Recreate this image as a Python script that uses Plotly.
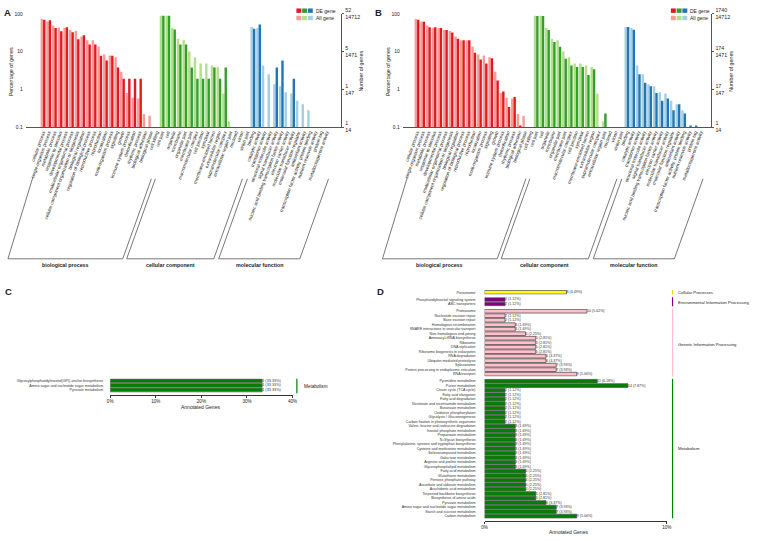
import plotly.graph_objects as go

W, H = 758, 541
def px(x): return x / W
def py(y): return 1 - y / H

# ---------------- GO level-2 terms (panels A, B) ----------------
bp_terms = ["cellular process", "single-organism process", "metabolic process",
            "response to stimulus", "developmental process", "multicellular organismal process",
            "cellular component organization or biogenesis", "biological regulation",
            "regulation of biological process", "reproductive process", "reproduction",
            "localization", "multi-organism process", "signaling", "growth",
            "immune system process", "detoxification", "rhythmic process",
            "biological adhesion", "biological phase", "cell killing"]
cc_terms = ["cell part", "cell", "organelle", "membrane", "organelle part",
            "membrane part", "macromolecular complex", "cell junction", "symplast",
            "membrane-enclosed lumen", "extracellular region", "supramolecular complex",
            "extracellular region part", "nucleoid", "virion", "virion part"]
mf_terms = ["binding", "catalytic activity", "transporter activity",
            "structural molecule activity", "signal transducer activity",
            "nucleic acid binding transcription factor activity", "electron carrier activity",
            "molecular transducer activity", "molecular function regulator",
            "antioxidant activity", "transcription factor activity, protein binding",
            "nutrient reservoir activity", "protein tag", "metallochaperone activity"]

# percentage of all genes (14712) - same in A and B
bp_all = [72.8, 63, 49, 42.6, 42, 37, 35, 25, 20, 20, 13.7, 8.4, 7.9, 7.1, 2.9, 0.8, 0.6, 0.57, 0.22, 0.2, None]
cc_all = [89, 89, 42, 22, 20, 10, 7.1, 4.8, 4.8, 4.3, 3.9, 0.77, 0.14, None, None, None]
mf_all = [45, 42, 4.3, 2.5, 1.37, 1.2, 0.84, 0.77, 0.5, 0.4, 0.28, None, None, None]

# percentage of DE genes, panel A (52 genes)
a_bp_de = [69.2, 67.3, 42.3, 34.6, 44.2, 32.7, 21.2, 26.9, 15.4, 15.4, 7.7, 5.8, 7.7, 3.8, 1.9, 1.9, 1.9, 1.9, None, None, None]
a_cc_de = [88.5, 88.5, 38.5, 15.4, 15.4, 3.8, 1.9, 1.9, 1.9, 3.8, 1.9, 3.8, None, None, None, None]
a_mf_de = [40.4, 51.9, None, None, 3.8, 5.8, None, 1.9, None, None, None, None, None, None]

# percentage of DE genes, panel B (1740 genes)
b_bp_de = [70, 62, 44, 44, 42, 37, 32, 22, 20, 20, 9.3, 6.2, 4.8, 6.7, 1.7, 0.87, 0.34, 0.63, 0.11, None, None]
b_cc_de = [88, 88, 37, 18, 13.5, 6.5, 4.3, 3.9, 3.9, 2.4, 3.4, None, 0.23, None, None, None]
b_mf_de = [45, 38, 2.5, 1.5, 1.2, 0.8, 0.5, 0.57, 0.28, 0.4, 0.23, 0.11, 0.11, None]

pct_ticks = [0.1, 1, 10, 100]
pct_text = ["0.1", "1", "10", "100"]
a_right_text = ["1<br>14", "1<br>147", "5<br>1471", "52<br>14712"]
b_right_text = ["1<br>14", "17<br>147", "174<br>1471", "1740<br>14712"]

# ---------------- KEGG (panel C) ----------------
c_terms = ["Glycosylphosphatidylinositol(GPI)-anchor biosynthesis",
           "Amino sugar and nucleotide sugar metabolism", "Pyruvate metabolism"]
c_counts = [1, 1, 1]
c_total = 3

# ---------------- KEGG (panel D) ----------------
d_total = 178
d_cp_terms = ["Peroxisome"]
d_cp_counts = [8]
d_eip_terms = ["Phosphatidylinositol signaling system", "ABC transporters"]
d_eip_counts = [2, 2]
d_gip_terms = ["Proteasome", "Nucleotide excision repair", "Base excision repair",
               "Homologous recombination", "SNARE interactions in vesicular transport",
               "Non-homologous end-joining", "Aminoacyl-tRNA biosynthesis", "Ribosome",
               "DNA replication", "Ribosome biogenesis in eukaryotes", "RNA degradation",
               "Ubiquitin mediated proteolysis", "Spliceosome",
               "Protein processing in endoplasmic reticulum", "RNA transport"]
d_gip_counts = [10, 2, 2, 3, 3, 4, 5, 5, 5, 5, 6, 6, 7, 7, 9]
d_met_terms = ["Pyrimidine metabolism", "Purine metabolism", "Citrate cycle (TCA cycle)",
               "Fatty acid elongation", "Fatty acid degradation",
               "Nicotinate and nicotinamide metabolism", "Butanoate metabolism",
               "Oxidative phosphorylation", "Glycolysis / Gluconeogenesis",
               "Carbon fixation in photosynthetic organisms",
               "Valine, leucine and isoleucine degradation", "Inositol phosphate metabolism",
               "Propanoate metabolism", "N-Glycan biosynthesis",
               "Phenylalanine, tyrosine and tryptophan biosynthesis",
               "Cysteine and methionine metabolism", "Selenocompound metabolism",
               "Galactose metabolism", "Arginine and proline metabolism",
               "Glycerophospholipid metabolism", "Fatty acid metabolism",
               "Glutathione metabolism", "Pentose phosphate pathway",
               "Ascorbate and aldarate metabolism", "Arachidonic acid metabolism",
               "Terpenoid backbone biosynthesis", "Biosynthesis of amino acids",
               "Pyruvate metabolism", "Amino sugar and nucleotide sugar metabolism",
               "Starch and sucrose metabolism", "Carbon metabolism"]
d_met_counts = [11, 14, 2, 2, 2, 2, 2, 2, 2, 2, 3, 3, 3, 3, 3, 3, 3, 3, 3, 3,
                4, 4, 4, 4, 4, 5, 5, 6, 7, 7, 9]
d_groups = ["Cellular Processes", "Environmental Information Processing",
            "Genetic Information Processing", "Metabolism"]

# ---------------- styling ----------------
FONT = "Liberation Sans, Arial, sans-serif"
TXT = "#222222"
LIGHT = {"bp": "#FB9A99", "cc": "#B2DF8A", "mf": "#A6CEE3"}
DARK = {"bp": "#E31A1C", "cc": "#33A02C", "mf": "#1F78B4"}

terms = bp_terms + cc_terms + mf_terms
light_cols = [LIGHT["bp"]] * len(bp_terms) + [LIGHT["cc"]] * len(cc_terms) + [LIGHT["mf"]] * len(mf_terms)
dark_cols = [DARK["bp"]] * len(bp_terms) + [DARK["cc"]] * len(cc_terms) + [DARK["mf"]] * len(mf_terms)
all_vals = bp_all + cc_all + mf_all

fig = go.Figure()
layout = {}
shapes = []
annotations = []

def ax_name(kind, n):
    return kind if n == 1 else f"{kind}{n}"

def ax_key(kind, n):
    return f"{kind}axis" if n == 1 else f"{kind}axis{n}"

def text(x, y, s, size, anchor="center", angle=0, color=TXT, yanchor="middle"):
    annotations.append(dict(x=px(x), y=py(y), xref="paper", yref="paper", text=s,
                            showarrow=False, xanchor=anchor, yanchor=yanchor, textangle=angle,
                            font=dict(size=size, color=color, family=FONT)))

def path(points, color="#555555", width=0.8):
    d = "M " + " L ".join(f"{px(x):.5f},{py(y):.5f}" for x, y in points)
    shapes.append(dict(type="path", path=d, xref="paper", yref="paper",
                       line=dict(color=color, width=width)))

def rect(x0, y0, x1, y1, color):
    shapes.append(dict(type="rect", xref="paper", yref="paper", x0=px(x0), x1=px(x1),
                       y0=py(y1), y1=py(y0), fillcolor=color, line=dict(width=0)))

def vline(x, y0, y1, color, width=1.2):
    shapes.append(dict(type="line", xref="paper", yref="paper", x0=px(x), x1=px(x),
                       y0=py(y0), y1=py(y1), line=dict(color=color, width=width)))


def go_panel(de_vals, xn, yn, yn2, xdom, xrng, right_text, dx):
    xa, ya, ya2 = ax_name("x", xn), ax_name("y", yn), ax_name("y", yn2)
    fig.add_trace(go.Bar(x=terms, y=all_vals, marker=dict(color=light_cols, line=dict(width=0)),
                         xaxis=xa, yaxis=ya, name="All gene", showlegend=False))
    fig.add_trace(go.Bar(x=terms, y=de_vals, marker=dict(color=dark_cols, line=dict(width=0)),
                         xaxis=xa, yaxis=ya, name="DE gene", showlegend=False))
    fig.add_trace(go.Scatter(x=[terms[0]], y=[1], xaxis=xa, yaxis=ya2, mode="markers",
                             marker=dict(opacity=0), showlegend=False, hoverinfo="skip"))
    layout[ax_key("x", xn)] = dict(
        domain=[px(xdom[0]), px(xdom[1])], anchor=ya, range=xrng, type="category",
        categoryorder="array", categoryarray=terms, tickmode="array", tickvals=terms,
        ticktext=terms, tickangle=-70, tickfont=dict(size=4.6, color=TXT),
        showline=True, linecolor="#555555", linewidth=0.8, ticks="", showgrid=False, zeroline=False)
    layout[ax_key("y", yn)] = dict(
        domain=[py(123), py(7)], anchor=xa, type="log", range=[-1, 2],
        tickmode="array", tickvals=pct_ticks, ticktext=pct_text, tickfont=dict(size=5.0, color=TXT),
        showline=False, showgrid=False, zeroline=False, ticks="", ticklabelstandoff=2)
    layout[ax_key("y", yn2)] = dict(
        overlaying=ya, side="right", anchor=xa, type="log", range=[-1, 2],
        tickmode="array", tickvals=pct_ticks, ticktext=right_text, tickfont=dict(size=5.3, color=TXT),
        ticks="outside", ticklen=2, tickcolor="#555555", showline=True, linecolor="#555555",
        linewidth=0.8, showgrid=False, zeroline=False)
    # axis titles
    text(xdom[0] - 14, 66, "Percentage of genes", 5.3, angle=-90)
    text(xdom[1] + 20, 66, "Number of genes", 5.3, angle=-90)
    # legend
    for i, k in enumerate(["bp", "cc", "mf"]):
        rect(296.5 + dx + i * 5.8, 1.5, 301.5 + dx + i * 5.8, 6.0, DARK[k])
        rect(296.5 + dx + i * 5.8, 9.0, 301.5 + dx + i * 5.8, 13.5, LIGHT[k])
    text(314 + dx, 3.8, "DE gene", 5.0, anchor="left")
    text(314 + dx, 11.3, "All gene", 5.0, anchor="left")
    # group brackets
    path([(30 + dx, 175), (5 + dx, 258), (121 + dx, 258), (150 + dx, 176)])
    path([(154 + dx, 176), (125 + dx, 258), (213 + dx, 258), (242 + dx, 176)])
    path([(247 + dx, 176), (218 + dx, 258), (300 + dx, 258), (329 + dx, 176)])
    text(63 + dx, 264.5, "<b>biological process</b>", 5.3)
    text(169 + dx, 264.5, "<b>cellular component</b>", 5.3)
    text(259 + dx, 264.5, "<b>molecular function</b>", 5.3)


go_panel(a_bp_de + a_cc_de + a_mf_de, 1, 1, 2, (23, 342), [-3.05, 52.6], a_right_text, 0)
go_panel(b_bp_de + b_cc_de + b_mf_de, 2, 3, 4, (404, 716), [-2.52, 51.9], b_right_text, 378.5)

# ---------------- panel C ----------------
c_pct = [c / c_total * 100 for c in c_counts]
fig.add_trace(go.Bar(y=c_terms, x=c_pct, orientation="h", width=0.82,
                     marker=dict(color="#008000", line=dict(color="#666666", width=0.8)),
                     text=[f"{c} ({p:.2f}%)" for c, p in zip(c_counts, c_pct)],
                     textposition="outside", constraintext="none", cliponaxis=False,
                     textfont=dict(size=3.8, color="#333333"),
                     xaxis="x3", yaxis="y5", showlegend=False))
layout["xaxis3"] = dict(domain=[px(108.3), px(292.7)], anchor="y5", range=[0, 40],
                        tickmode="array", tickvals=[0, 10, 20, 30, 40],
                        ticktext=["0%", "10%", "20%", "30%", "40%"],
                        tickfont=dict(size=4.6, color=TXT), ticks="outside", ticklen=2,
                        tickcolor="#333333", showline=True, linecolor="#333333", linewidth=0.8,
                        showgrid=False, zeroline=False)
layout["yaxis5"] = dict(domain=[py(397.3), py(380.7)], anchor="x3", type="category",
                        range=[3.05, -0.5], tickmode="array", tickvals=c_terms, ticktext=c_terms,
                        tickfont=dict(size=3.6, color="#333333"), ticks="", showline=False,
                        showgrid=False, zeroline=False, ticklabelstandoff=6)
text(200, 409.5, "Annotated Genes", 5.0)
vline(297, 381, 395.7, "#008000")
text(302, 389, "Metabolism", 4.6, anchor="left")

# ---------------- panel D ----------------
d_sets = [
    (d_cp_terms, d_cp_counts, "#FFFF00", (290.0, 294.6), 0.5, 293.0),
    (d_eip_terms, d_eip_counts, "#800080", (297.4, 306.6), 1.5, 302.5),
    (d_gip_terms, d_gip_counts, "#FFC0CB", (309.4, 378.5), 14.5, 345.5),
    (d_met_terms, d_met_counts, "#008000", (381.0, 526.7), 31.1, 452.0),
]
line_cols = ["#E0E000", "#800080", "#FFC0CB", "#008000"]
for i, (tms, cnts, col, (top, bot), rbot, ylab) in enumerate(d_sets):
    xn, yn = 4 + i, 6 + i
    pcts = [c / d_total * 100 for c in cnts]
    fig.add_trace(go.Bar(y=tms, x=pcts, orientation="h", width=0.82,
                         marker=dict(color=col, line=dict(color="#555555", width=0.8)),
                         text=[f"{c} ({p:.2f}%)" for c, p in zip(cnts, pcts)],
                         textposition="outside", constraintext="none", cliponaxis=False,
                         textfont=dict(size=3.6, color="#333333"),
                         xaxis=ax_name("x", xn), yaxis=ax_name("y", yn), showlegend=False))
    last = i == len(d_sets) - 1
    layout[ax_key("x", xn)] = dict(domain=[px(486.7), px(670.9)], anchor=ax_name("y", yn),
                                   range=[0, 10], visible=last, tickmode="array",
                                   tickvals=[0, 10], ticktext=["0%", "10%"],
                                   tickfont=dict(size=4.6, color=TXT), ticks="outside", ticklen=2,
                                   tickcolor="#333333", showline=True, linecolor="#333333",
                                   linewidth=0.8, showgrid=False, zeroline=False)
    layout[ax_key("y", yn)] = dict(domain=[py(bot), py(top)], anchor=ax_name("x", xn),
                                   type="category", range=[rbot, -0.5], tickmode="array",
                                   tickvals=tms, ticktext=tms,
                                   tickfont=dict(size=3.6, color="#333333"), ticks="",
                                   showline=False, showgrid=False, zeroline=False,
                                   ticklabelstandoff=8)
    vline(676.7, top, min(bot, 523.9), line_cols[i])
    text(680.5, ylab, d_groups[i], 4.2, anchor="left")
text(572, 537.5, "Annotated Genes", 5.0)

# panel letters
text(5, 5.5, "<b>A</b>", 9.5)
text(379, 5.5, "<b>B</b>", 9.5)
text(5.5, 291, "<b>C</b>", 9.5)
text(381.5, 292, "<b>D</b>", 9.5)

fig.update_layout(width=W, height=H, margin=dict(l=0, r=0, t=0, b=0),
                  paper_bgcolor="white", plot_bgcolor="white",
                  font=dict(family=FONT, color=TXT, size=6),
                  barmode="group", bargap=0.15, bargroupgap=0,
                  shapes=shapes, annotations=annotations, **layout)

fig.write_html("out.html", config={"displayModeBar": False},
               post_script="document.body.style.margin='0px';document.body.style.overflow='hidden';")
